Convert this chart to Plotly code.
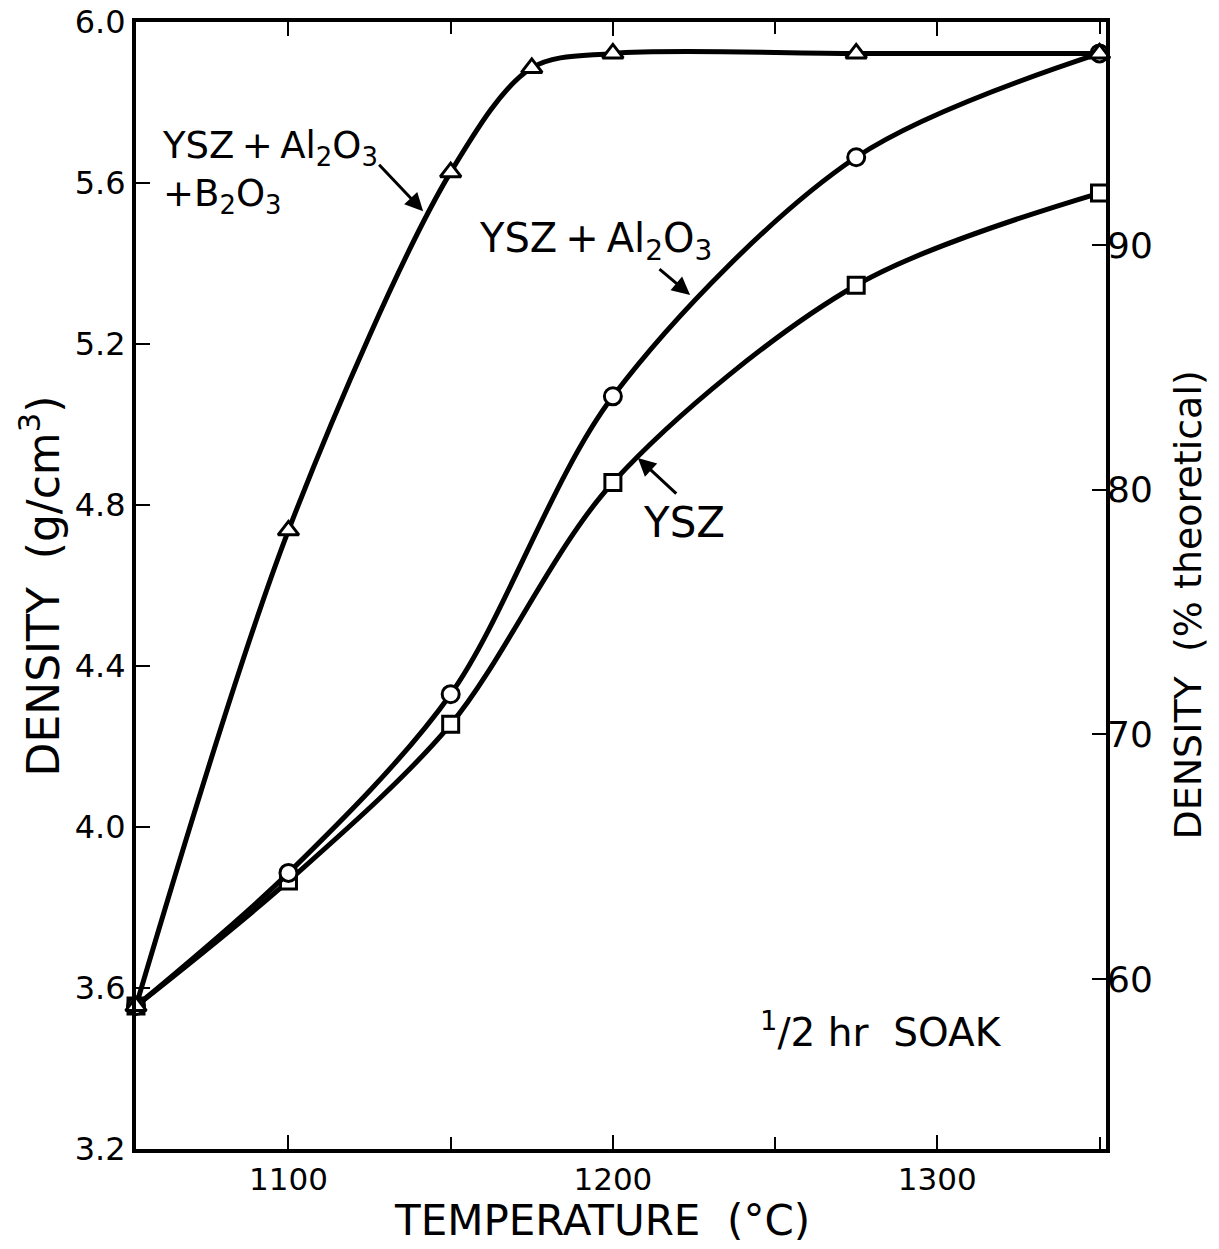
import plotly.graph_objects as go

# ---- data ----
temp_b2o3 = [1053, 1100, 1150, 1175, 1200, 1275, 1350]
dens_b2o3 = [3.555, 4.737, 5.627, 5.886, 5.922, 5.922, 5.922]

temp_al2o3 = [1053, 1100, 1150, 1200, 1275, 1350]
dens_al2o3 = [3.555, 3.886, 4.33, 5.07, 5.664, 5.922]

temp_ysz = [1053, 1100, 1150, 1200, 1275, 1350]
dens_ysz = [3.555, 3.866, 4.255, 4.856, 5.346, 5.575]

left_ticks = [3.2, 3.6, 4.0, 4.4, 4.8, 5.2, 5.6, 6.0]
left_ticktext = ["3.2", "3.6", "4.0", "4.4", "4.8", "5.2", "5.6", "6.0"]
right_ticks = [60, 70, 80, 90]
x_major = [1100, 1200, 1300]
x_minor_step = 50

FONT = "DejaVu Sans"
BLACK = "black"
TS = "\u2009"  # thin space

fig = go.Figure()

def add_series(xs, ys, symbol, size):
    fig.add_trace(go.Scatter(
        x=xs, y=ys, mode="lines",
        line=dict(color=BLACK, width=5, shape="spline", smoothing=0.9),
        showlegend=False, cliponaxis=False, hoverinfo="skip"))
    fig.add_trace(go.Scatter(
        x=xs, y=ys, mode="markers",
        marker=dict(symbol=symbol, size=size, color="white",
                    line=dict(color=BLACK, width=3)),
        showlegend=False, cliponaxis=False))

add_series(temp_ysz, dens_ysz, "square", 16)
add_series(temp_al2o3, dens_al2o3, "circle", 17)
add_series(temp_b2o3, dens_b2o3, "triangle-up", 18)

# invisible trace to activate secondary axis
fig.add_trace(go.Scatter(x=[1200], y=[80], yaxis="y2", mode="markers",
                         marker=dict(opacity=0), showlegend=False, hoverinfo="skip"))

# ---- labels ----
labels = [
    dict(x=1060.5, y=5.752,
         text=f"YSZ{TS}+{TS}Al<sub>2</sub>O<sub>3</sub><br>+B<sub>2</sub>O<sub>3</sub>",
         xanchor="left", yanchor="top", align="left", size=37),
    dict(x=1194.5, y=5.455, text=f"YSZ{TS}+{TS}Al<sub>2</sub>O<sub>3</sub>",
         xanchor="center", yanchor="middle", size=40),
    dict(x=1222, y=4.757, text="YSZ", xanchor="center", yanchor="middle", size=42),
    dict(x=1282.5, y=3.495, text="<sup>1</sup>/2 hr  SOAK", xanchor="center",
         yanchor="middle", size=39),
]
for lb in labels:
    size = lb.pop("size")
    fig.add_annotation(showarrow=False, xref="x", yref="y",
                       font=dict(family=FONT, size=size, color=BLACK), **lb)

# ---- axis titles as annotations (paper coords) ----
titles = [
    dict(x=0.48, y=-0.0635, text="TEMPERATURE  (°C)", textangle=0, size=42),
    dict(x=-0.099, y=0.50, text="DENSITY  (g/cm<sup>3</sup>)", textangle=-90, size=44),
    dict(x=1.0845, y=0.483, text="DENSITY  (% theoretical)", textangle=-90, size=38),
]
for t in titles:
    size = t.pop("size")
    fig.add_annotation(showarrow=False, xref="paper", yref="paper",
                       xanchor="center", yanchor="middle",
                       font=dict(family=FONT, size=size, color=BLACK), **t)

# ---- arrows (head, tail) ----
arrows = [
    ((1141.5, 5.53), (1127.5, 5.649)),
    ((1223.8, 5.322), (1213.9, 5.389)),
    ((1207.7, 4.917), (1220.0, 4.825)),
]
for (hx, hy), (tx, ty) in arrows:
    fig.add_annotation(x=hx, y=hy, ax=tx, ay=ty, xref="x", yref="y",
                       axref="x", ayref="y", text="", showarrow=True,
                       arrowhead=2, arrowsize=1.2, arrowwidth=3, arrowcolor=BLACK)

fig.update_layout(
    width=1219, height=1249,
    margin=dict(l=136, r=113, t=22, b=100, autoexpand=False),
    paper_bgcolor="white", plot_bgcolor="white",
    font=dict(family=FONT, color=BLACK),
    xaxis=dict(range=[1053, 1352], tickvals=x_major, ticktext=[str(v) for v in x_major],
               ticks="inside", ticklen=14, tickwidth=2, tickcolor=BLACK,
               minor=dict(dtick=x_minor_step, tick0=1050, ticks="inside", ticklen=12,
                          tickwidth=2, tickcolor=BLACK),
               showline=True, linecolor=BLACK, linewidth=4, mirror="ticks",
               showgrid=False, zeroline=False, automargin=False,
               ticklabeloverflow="allow",
               tickfont=dict(family=FONT, size=31, color=BLACK)),
    yaxis=dict(range=[3.2, 6.0], tickvals=left_ticks, ticktext=left_ticktext,
               ticks="inside", ticklen=14, tickwidth=2, tickcolor=BLACK,
               showline=True, linecolor=BLACK, linewidth=4, mirror=True,
               showgrid=False, zeroline=False, automargin=False,
               ticklabeloverflow="allow",
               tickfont=dict(family=FONT, size=32, color=BLACK)),
    yaxis2=dict(overlaying="y", side="right", range=[53.06, 99.11],
                tickvals=right_ticks, ticktext=[str(v) for v in right_ticks],
                ticks="inside", ticklen=14, tickwidth=2, tickcolor=BLACK,
                showline=False, showgrid=False, zeroline=False, automargin=False,
                ticklabeloverflow="allow",
                tickfont=dict(family=FONT, size=36, color=BLACK)),
)

# remove the browser's default 8px body margin so the figure fills the window
fig.write_html("out.html",
               config={"displayModeBar": False},
               post_script="document.body.style.margin='0';document.body.style.overflow='hidden';")
